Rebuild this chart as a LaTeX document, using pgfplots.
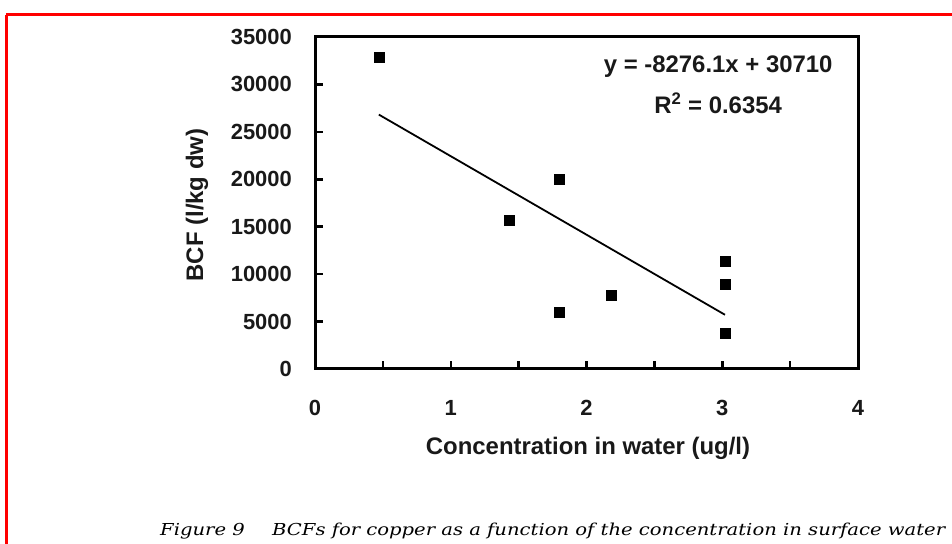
\documentclass[border=0pt]{standalone}
\usepackage{pgfplots}
\pgfplotsset{compat=1.18}
\usepackage{fontspec}
\usepackage{graphicx}
\setmainfont{Liberation Sans}
\newfontfamily\capfont{DejaVu Serif}
\begin{document}
\begin{tikzpicture}[x=1bp,y=1bp]
\useasboundingbox (0,0) rectangle (952,544);
\clip (0,0) rectangle (952,544);
\fill[white] (0,0) rectangle (952,544);
\draw[red, line width=3bp] (6,529) -- (1000,529);
\draw[red, line width=3bp] (6,529) -- (6,-10);
\begin{axis}[at={(315bp,175bp)}, anchor=south west, scale only axis,
  width=543bp, height=332bp,
  xmin=0, xmax=4, ymin=0, ymax=35000,
  xtick={0,1,2,3,4}, minor xtick={0.5,1.5,2.5,3.5},
  ytick={0,5000,...,35000},
  scaled y ticks=false,
  /pgf/number format/1000 sep={},
  /pgf/number format/assume math mode=true,
  tick align=inside, xtick pos=left, ytick pos=left,
  major tick length=8bp, minor tick length=8bp,
  axis line style={line width=3bp},
  every tick/.style={line width=2.5bp, black},
  every minor tick/.style={line width=2.5bp, black},
  ticklabel style={font=\fontsize{22}{26}\selectfont\bfseries, text=black!90, inner sep=0pt},
  xticklabel style={anchor=north, yshift=-31bp},
  yticklabel style={anchor=east, xshift=-23bp},
  clip=false,
]
\addplot[only marks, mark=square*, mark size=5bp, black] coordinates {
  (0.47,32900) (1.43,15650) (1.80,20050) (1.80,6000) (2.18,7800)
  (3.02,11400) (3.02,8950) (3.02,3800)
};
\addplot[black, line width=1.8bp] coordinates {(0.47,26820) (3.02,5716)};
\node[font=\fontsize{24}{28}\selectfont\bfseries, text=black!90] at (axis cs:2.97,31840) {y = -8276.1x + 30710};
\node[font=\fontsize{24}{28}\selectfont\bfseries, text=black!90] at (axis cs:2.97,28040) {R\textsuperscript{2} = 0.6354};
\end{axis}
\node[rotate=90, font=\fontsize{24}{28}\selectfont\bfseries, text=black!90] at (197,339) {BCF (l/kg dw)};
\node[font=\fontsize{24}{28}\selectfont\bfseries, text=black!90] at (588,96) {Concentration in water (ug/l)};
\node[anchor=base west, inner sep=0pt] at (160,8) {\resizebox{785bp}{\height}{\capfont\itshape\fontsize{16.5}{20}\selectfont Figure 9\hspace{1.4em}BCFs for copper as a function of the concentration in surface water}};
\end{tikzpicture}
\end{document}
